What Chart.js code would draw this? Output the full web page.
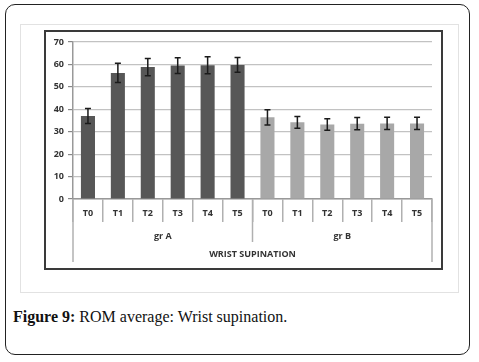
<!DOCTYPE html>
<html lang="en">
  <head>
    <meta charset="UTF-8" />
    <title>ROM average: Wrist supination</title>
    <script src="https://cdn.jsdelivr.net/npm/chart.js"></script>
    <style>
      body { margin: 0; background: #fff; width: 479px; height: 362px; position: relative; overflow: hidden; }
      #box { position: absolute; left: 5px; top: 4px; width: 463px; height: 349px; border: 1.5px solid #222; border-radius: 10px; }
      #frame { position: absolute; left: 20px; top: 24px; width: 437px; height: 267px; border: 1px solid #e2e2e2; }
      #wrap { position: absolute; left: 44px; top: 30px; width: 399px; height: 240px; }
      #caption { position: absolute; left: 13px; top: 308px; font-family: "Liberation Serif", serif; font-size: 16px; color: #111; white-space: nowrap; }
    </style>
  </head>
  <body>
    <div id="box"></div>
    <div id="frame"></div>
    <div id="wrap"><canvas id="romChart" width="399" height="240"></canvas></div>
    <div id="caption"><b>Figure 9:</b> ROM average: Wrist supination.</div>
    <script>
      const times = ["T0", "T1", "T2", "T3", "T4", "T5"];
      const groups = ["gr A", "gr B"];
      const groupA = [37, 56.2, 58.8, 59.5, 59.6, 59.8];
      const groupAErr = [3.3, 4.3, 3.8, 3.5, 3.8, 3.3];
      const groupB = [36.4, 34.2, 33.2, 33.6, 33.7, 33.7];
      const groupBErr = [3.4, 2.6, 2.6, 2.7, 2.7, 2.7];
      const yTicks = [0, 10, 20, 30, 40, 50, 60, 70];

      const labels = times.concat(times);
      const values = groupA.concat(groupB);
      const errors = groupAErr.concat(groupBErr);
      const colors = labels.map((l, i) => (i < times.length ? "#575757" : "#a8a8a8"));

      const errorBars = {
        id: "errorBars",
        afterDatasetsDraw(chart) {
          const ctx = chart.ctx;
          const y = chart.scales.y;
          const meta = chart.getDatasetMeta(0);
          ctx.save();
          ctx.strokeStyle = "#1a1a1a";
          ctx.lineWidth = 1.5;
          meta.data.forEach((bar, i) => {
            const top = y.getPixelForValue(values[i] + errors[i]);
            const bot = y.getPixelForValue(values[i] - errors[i]);
            ctx.beginPath();
            ctx.moveTo(bar.x, top);
            ctx.lineTo(bar.x, bot);
            ctx.moveTo(bar.x - 3, top);
            ctx.lineTo(bar.x + 3, top);
            ctx.moveTo(bar.x - 3, bot);
            ctx.lineTo(bar.x + 3, bot);
            ctx.stroke();
          });
          ctx.restore();
        },
        afterDraw(chart) {
          const ctx = chart.ctx;
          const x = chart.scales.x;
          const area = chart.chartArea;
          const step = x.getPixelForValue(1) - x.getPixelForValue(0);
          ctx.save();
          // group dividers: outer ones run past the title, inner ones stop above it
          ctx.strokeStyle = "#b0b0b0";
          ctx.lineWidth = 1.5;
          for (let g = 0; g <= groups.length; g++) {
            const px = x.getPixelForValue(g * times.length) - step / 2;
            const len = g === 0 || g === groups.length ? 63 : 43;
            ctx.beginPath();
            ctx.moveTo(px, area.bottom);
            ctx.lineTo(px, area.bottom + len);
            ctx.stroke();
          }
          // group labels
          ctx.fillStyle = "#333";
          ctx.font = "bold 9px 'Open Sans'";
          ctx.textAlign = "center";
          ctx.textBaseline = "middle";
          groups.forEach((g, gi) => {
            const a = x.getPixelForValue(gi * times.length);
            const b = x.getPixelForValue(gi * times.length + times.length - 1);
            ctx.fillText(g, (a + b) / 2, area.bottom + 37);
          });
          // outer chart border
          ctx.strokeStyle = "#3a3a3a";
          ctx.lineWidth = 2;
          ctx.strokeRect(1, 1, chart.width - 2, chart.height - 2);
          ctx.restore();
        },
      };

      new Chart(document.getElementById("romChart"), {
        type: "bar",
        data: {
          labels: labels,
          datasets: [
            {
              data: values,
              backgroundColor: colors,
              barPercentage: 0.47,
              categoryPercentage: 1,
            },
          ],
        },
        options: {
          responsive: false,
          animation: false,
          layout: { padding: { top: 12, right: 11, left: 0, bottom: 0 } },
          plugins: { legend: { display: false }, tooltip: { enabled: false } },
          scales: {
            y: {
              min: 0,
              max: 70,
              afterBuildTicks(scale) {
                scale.ticks = yTicks.map((v) => ({ value: v }));
              },
              afterFit(scale) {
                scale.width = 29;
              },
              grid: { color: "#c2c2c2", lineWidth: 1.2, tickLength: 5, tickColor: "#888" },
              border: { color: "#999", width: 1.5 },
              ticks: {
                color: "#333",
                padding: 4,
                font: { family: "Open Sans", weight: "bold", size: 9 },
              },
            },
            x: {
              offset: true,
              afterFit(scale) {
                scale.height = 71;
              },
              grid: {
                offset: true,
                drawOnChartArea: false,
                tickLength: 23,
                color: "#b0b0b0",
                lineWidth: 1.5,
              },
              border: { color: "#999", width: 1.5 },
              ticks: {
                color: "#333",
                padding: -14,
                maxRotation: 0,
                autoSkip: false,
                font: { family: "Open Sans", weight: "bold", size: 9 },
              },
              title: {
                display: true,
                text: "WRIST SUPINATION",
                color: "#333",
                font: { family: "Open Sans", weight: "bold", size: 9 },
                padding: { top: 0, bottom: 10 },
              },
            },
          },
        },
        plugins: [errorBars],
      });
    </script>
  </body>
</html>
